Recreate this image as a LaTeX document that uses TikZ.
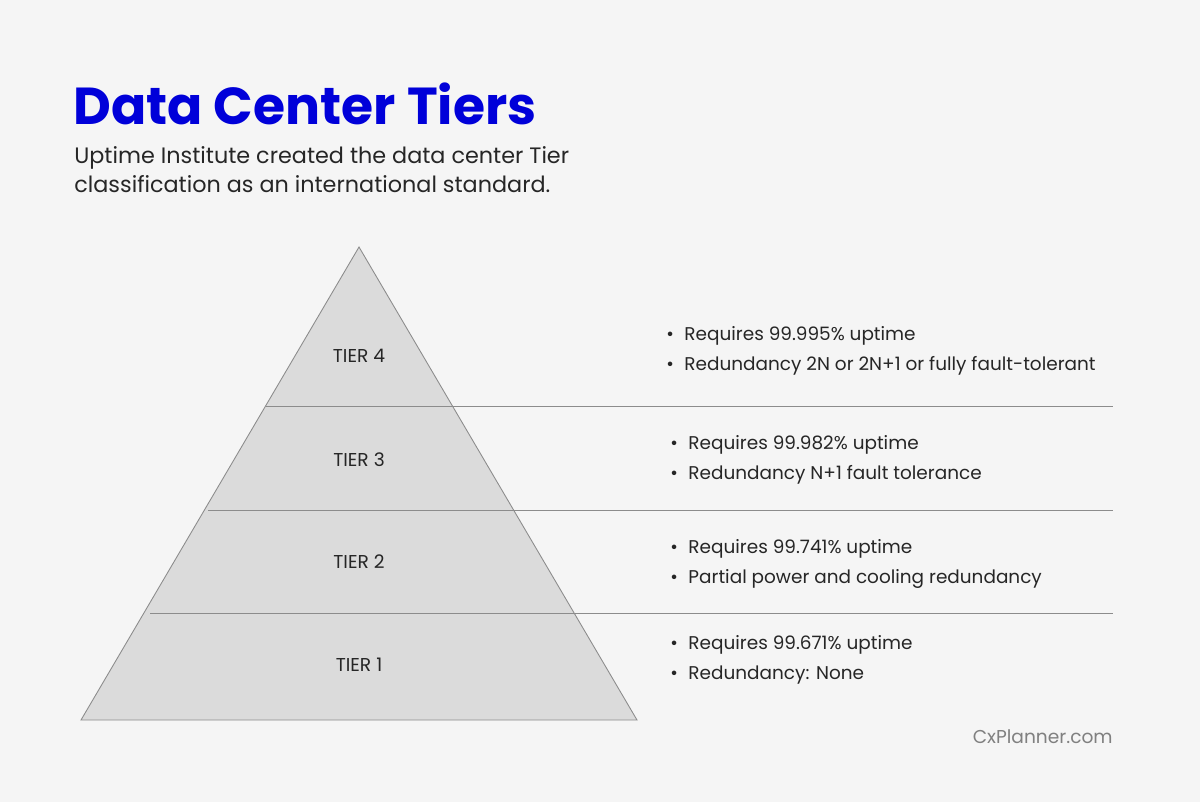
\documentclass[tikz,border=0pt]{standalone}
\usepackage{fontspec}
\setmainfont{Poppins}
\begin{document}
\begin{tikzpicture}[x=0.02cm,y=-0.02cm,
  bul/.style={anchor=west,font=\fontsize{10.5pt}{12pt}\selectfont,text=black!85,inner sep=0},
  tier/.style={font=\fontsize{10.6pt}{12pt}\selectfont,text=black!85},
  sep/.style={draw=black!45,line width=0.5pt}]
\fill[black!4] (0,0) rectangle (1200,802);
\useasboundingbox (0,0) rectangle (1200,802);
\node[anchor=west,inner sep=0,text=blue!85!black,font=\fontsize{29.6pt}{32pt}\selectfont\bfseries] (title) at (73,104) {Data Center Tiers};
\node[anchor=north west,inner sep=0,align=left,font=\fontsize{12.7pt}{16.6pt}\selectfont,text=black!85] (sub) at (74,146) {Uptime Institute created the data center Tier\\classification as an international standard.};
\coordinate (apex) at (359,247);
\coordinate (bl) at (81,720);
\coordinate (br) at (637,720);
\filldraw[fill=black!14,draw=black!45,line width=0.5pt] (apex) -- (br) -- (bl) -- cycle;
\coordinate (a1) at (266,406); \coordinate (b1) at (1113,406);
\coordinate (a2) at (208,510); \coordinate (b2) at (1113,510);
\coordinate (a3) at (150,613); \coordinate (b3) at (1113,613);
\draw[sep] (a1) -- (b1); \draw[sep] (a2) -- (b2); \draw[sep] (a3) -- (b3);
\node[tier] (t4) at (359,356) {TIER 4};
\node[tier] (t3) at (359,460) {TIER 3};
\node[tier] (t2) at (359,562) {TIER 2};
\node[tier] (t1) at (359,665) {TIER 1};
\node[bul] (p41) at (666,336) {•\hspace{6pt}Requires 99.995\% uptime};
\node[bul] (p42) at (666,366) {•\hspace{6pt}Redundancy 2N or 2N+1 or fully fault-tolerant};
\node[bul] (p31) at (670,445) {•\hspace{6pt}Requires 99.982\% uptime};
\node[bul] (p32) at (670,475) {•\hspace{6pt}Redundancy N+1 fault tolerance};
\node[bul] (p21) at (670,549) {•\hspace{6pt}Requires 99.741\% uptime};
\node[bul] (p22) at (670,579) {•\hspace{6pt}Partial power and cooling redundancy};
\node[bul] (p11) at (670,645) {•\hspace{6pt}Requires 99.671\% uptime};
\node[bul] (p12) at (670,675) {•\hspace{6pt}Redundancy: None};
\node[anchor=east,inner sep=0,text=black!50,font=\fontsize{10.6pt}{12pt}\selectfont] (cx) at (1113,737) {CxPlanner.com};
\end{tikzpicture}
\end{document}
